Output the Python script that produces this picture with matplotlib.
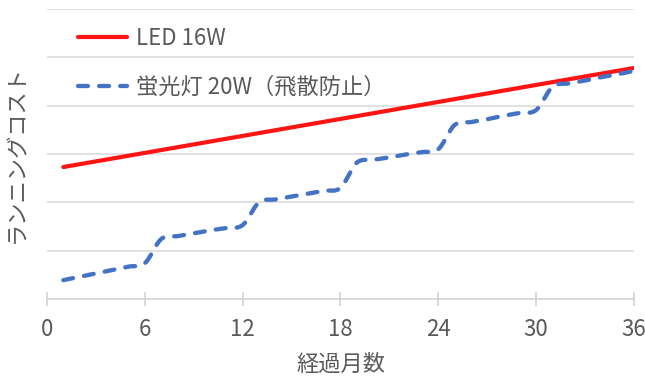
import numpy as np
import matplotlib
matplotlib.use("Agg")
import matplotlib.pyplot as plt

plt.rcParams['font.family'] = ['Noto Sans CJK JP', 'DejaVu Sans']

# data (cost in gridline units)
led_months = [1, 36]
led_cost = [2.73, 4.78]

fl_months = list(range(1, 37))
fl_cost = [0.39, 0.46, 0.53, 0.60, 0.67, 0.74,
           1.24, 1.30, 1.36, 1.42, 1.47, 1.53,
           2.00, 2.06, 2.12, 2.18, 2.24, 2.30,
           2.82, 2.88, 2.93, 2.99, 3.04, 3.10,
           3.60, 3.66, 3.72, 3.79, 3.85, 3.91,
           4.39, 4.46, 4.52, 4.59, 4.65, 4.72]

x_ticks = [0, 6, 12, 18, 24, 30, 36]
led_label = 'LED 16W'
fl_label = '蛍光灯 20W（飛散防止）'


def smooth(xs, ys, n=16):
    # catmull-rom drawing, like a "smoothed line" in a spreadsheet chart
    xs = np.asarray(xs, float)
    ys = np.asarray(ys, float)
    px = np.concatenate([[2 * xs[0] - xs[1]], xs, [2 * xs[-1] - xs[-2]]])
    py = np.concatenate([[2 * ys[0] - ys[1]], ys, [2 * ys[-1] - ys[-2]]])
    t = np.linspace(0, 1, n, endpoint=False)
    ox, oy = [], []
    for i in range(1, len(px) - 2):
        for p, o in ((px, ox), (py, oy)):
            p0, p1, p2, p3 = p[i - 1], p[i], p[i + 1], p[i + 2]
            o.extend(0.5 * (2 * p1 + (-p0 + p2) * t
                            + (2 * p0 - 5 * p1 + 4 * p2 - p3) * t ** 2
                            + (-p0 + 3 * p1 - 3 * p2 + p3) * t ** 3))
    ox.append(xs[-1])
    oy.append(ys[-1])
    return np.array(ox), np.array(oy)


fig = plt.figure(figsize=(6.45, 3.78), dpi=100)
ax = fig.add_axes([47 / 645, 1 - 299 / 378, 587 / 645, 290 / 378])

grid_c = '#d9d9d9'
text_c = '#595959'

ax.plot(led_months, led_cost, color='#ff1414', lw=3.0, solid_capstyle='round',
        label=led_label, zorder=3)
sx, sy = smooth(fl_months, fl_cost)
ax.plot(sx, sy, color='#4472c4', lw=3.1, dashes=(2.3, 2.6), dash_capstyle='round',
        label=fl_label, zorder=3)

ax.set_xlim(0, 36)
ax.set_ylim(0, 6)
ax.set_xticks(x_ticks)
ax.set_yticks([1, 2, 3, 4, 5, 6])
ax.set_yticklabels([])
ax.grid(axis='y', color=grid_c, lw=1.1)
ax.set_axisbelow(True)
for s in ['left', 'right', 'top']:
    ax.spines[s].set_visible(False)
ax.spines['bottom'].set_color('#cfcfcf')
ax.spines['bottom'].set_linewidth(1.1)
ax.tick_params(axis='y', length=0)
ax.tick_params(axis='x', direction='inout', length=10, width=1.1, color='#cfcfcf',
               labelsize=16, labelcolor=text_c, pad=9)

ax.set_xlabel('経過月数', fontsize=16, color=text_c, labelpad=8)
ax.set_ylabel('ランニングコスト', fontsize=16, color=text_c, labelpad=10)

leg = ax.legend(loc='upper left', bbox_to_anchor=(31 / 587, (299 - 27) / 290),
                frameon=False, fontsize=16, handlelength=2.2, handletextpad=0.4,
                labelspacing=1.15, borderpad=0, borderaxespad=0)
for t in leg.get_texts():
    t.set_color(text_c)

fig.savefig('out.png', dpi=100)
